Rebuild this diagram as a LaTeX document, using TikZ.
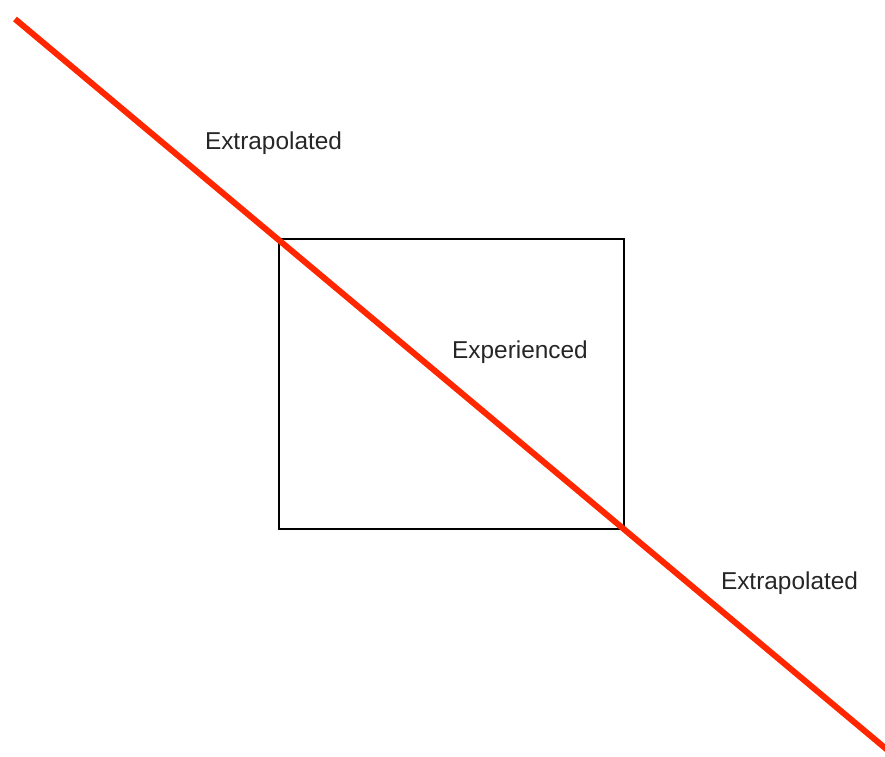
\documentclass[tikz,border=0pt]{standalone}
\usepackage{fontspec}
\setmainfont{Liberation Sans}
\definecolor{linered}{RGB}{255,38,0}
\begin{document}
\begin{tikzpicture}[x=1pt,y=-1pt,
  lbl/.style={font=\fontsize{24.4}{28}\selectfont, text=black!85, inner sep=0pt},
  boxstyle/.style={draw=black, line width=2pt, minimum width=345pt, minimum height=290pt, inner sep=0pt},
  redline/.style={draw=linered, line width=6pt}]
\useasboundingbox (0,0) rectangle (885,756);
\clip (0,0) rectangle (885,756);
\node[boxstyle] (box) at (451.5,383.5) {};
\coordinate (start) at (15,19);
\coordinate (finish) at (903,763);
\draw[redline] (start) -- (finish);
\node[lbl] (ex1) at (273.5,143) {Extrapolated};
\node[lbl] (exp) at (520,352) {Experienced};
\node[lbl] (ex2) at (789.5,583) {Extrapolated};
\end{tikzpicture}
\end{document}
